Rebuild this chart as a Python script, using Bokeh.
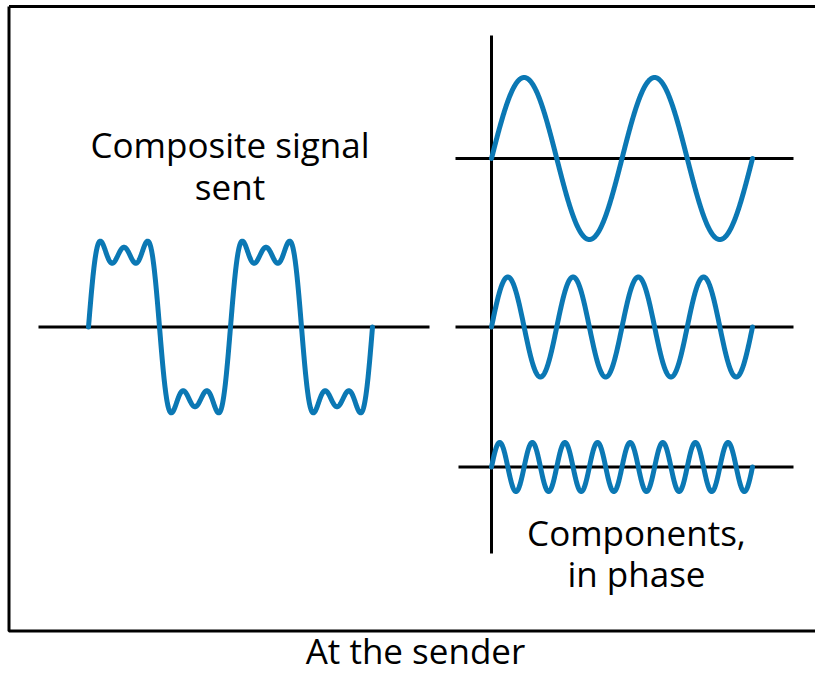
import numpy as np
from bokeh.plotting import figure
from bokeh.models import Range1d
from bokeh.core.properties import value
from bokeh.embed import file_html
from bokeh.resources import INLINE

# ---- data (diagram units = pixels of the reference) ----
# composite signal: odd harmonics of a square wave
composite_harmonics = [1, 3, 5]
composite_weights = [1.0, 1 / 3, 1 / 5]
composite_amplitude = 92.0
composite_periods = 2
composite_start, composite_end = 88, 372
composite_base = 326.5

# components drawn on the right (in phase)
component_cycles = [2, 4, 8]
component_amplitudes = [81.0, 50.0, 24.5]
component_bases = [158.0, 326.5, 466.5]
component_start, component_end = 491, 752

labels_left = ["Composite signal", "sent"]
labels_right = ["Components,", "in phase"]
caption = "At the sender"

BLUE = "#0b78b4"
FONT = "Open Sans"
FS = "35px"

p = figure(width=815, height=674, x_range=Range1d(0, 815), y_range=Range1d(674, 0),
           output_backend="svg", toolbar_location=None, min_border=0)
p.axis.visible = False
p.grid.visible = False
p.outline_line_color = None
p.background_fill_color = "white"

# frame box
p.line([8.5, 8.5, 830], [6, 630.5, 630.5], line_color="black", line_width=3)
p.line([8.5, 830], [6, 6], line_color="black", line_width=3)

# composite baseline
p.line([38, 429], [composite_base, composite_base], line_color="black", line_width=3)

# component axes
p.line([491, 491], [35, 553], line_color="black", line_width=3)
for b, x0 in zip(component_bases, [455, 455, 458]):
    p.line([x0, 793], [b, b], line_color="black", line_width=3)

# composite wave
xs = np.linspace(composite_start, composite_end, 1200)
theta = (xs - composite_start) / (composite_end - composite_start) * composite_periods * 2 * np.pi
ys = np.zeros_like(xs)
for h, w in zip(composite_harmonics, composite_weights):
    ys += w * np.sin(h * theta)
p.line(xs, composite_base - composite_amplitude * ys, line_color=BLUE, line_width=5,
       line_join="round", line_cap="round")

# components
xc = np.linspace(component_start, component_end, 1200)
for cyc, amp, base in zip(component_cycles, component_amplitudes, component_bases):
    th = (xc - component_start) / (component_end - component_start) * cyc * 2 * np.pi
    p.line(xc, base - amp * np.sin(th), line_color=BLUE, line_width=5,
           line_join="round", line_cap="round")

# texts
p.text(x=[229.5, 229.5], y=[144, 186], text=labels_left, text_font=value(FONT),
       text_font_size=FS, text_align="center", text_baseline="alphabetic", text_color="black")
p.text(x=[636, 636], y=[532, 573], text=labels_right, text_font=value(FONT),
       text_font_size=FS, text_align="center", text_baseline="alphabetic", text_color="black")
p.text(x=[415], y=[650], text=[caption], text_font=value(FONT),
       text_font_size=FS, text_align="center", text_baseline="alphabetic", text_color="black")

open("out.html", "w").write(file_html(p, INLINE))
